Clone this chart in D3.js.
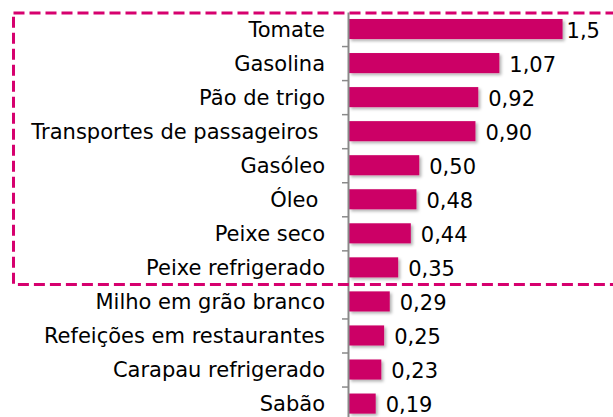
<!DOCTYPE html>
<html>
<head>
<meta charset="utf-8">
<script src="https://cdn.jsdelivr.net/npm/d3@7"></script>
<style>
  html, body { margin: 0; padding: 0; background: #fff; }
  svg { display: block; }
  text { font-family: "DejaVu Sans", sans-serif; white-space: pre; }
</style>
</head>
<body>
<div id="chart"></div>
<script>
// categorias (de cima para baixo)
const categories = [
  'Tomate', 'Gasolina', 'Pão de trigo', 'Transportes de passageiros ',
  'Gasóleo', 'Óleo ', 'Peixe seco', 'Peixe refrigerado',
  'Milho em grão branco', 'Refeições em restaurantes', 'Carapau refrigerado', 'Sabão'
];
// contributos (pontos percentuais)
const values = [1.52, 1.07, 0.92, 0.90, 0.50, 0.48, 0.44, 0.35, 0.29, 0.25, 0.23, 0.19];
// rótulos de dados como aparecem no gráfico
const valueLabels = ['1,5', '1,07', '0,92', '0,90', '0,50', '0,48', '0,44', '0,35', '0,29', '0,25', '0,23', '0,19'];
// quantas categorias ficam dentro da caixa tracejada
const highlighted = 8;

const width = 613, height = 417;
const axisX = 348;
const plotTop = 12, step = 34.05;

const svg = d3.select('#chart').append('svg')
  .attr('width', width)
  .attr('height', height);

// sombra suave das barras
const defs = svg.append('defs');
defs.append('filter')
  .attr('id', 'shadow')
  .attr('x', '-10%').attr('y', '-30%')
  .attr('width', '130%').attr('height', '180%')
  .append('feDropShadow')
  .attr('dx', 2).attr('dy', 2)
  .attr('stdDeviation', 1.5)
  .attr('flood-color', '#000')
  .attr('flood-opacity', 0.3);

// escalas
const x = d3.scaleLinear()
  .domain([0, 1.6])
  .range([axisX + 1, axisX + 1 + 1.6 * 140.5]);

const y = d3.scaleBand()
  .domain(d3.range(categories.length))
  .range([plotTop, plotTop + categories.length * step])
  .paddingInner(0.41)
  .paddingOuter(0.205);

// escala auxiliar para as marcas entre categorias
const yIdx = d3.scaleLinear()
  .domain([0, categories.length])
  .range([plotTop, plotTop + categories.length * step]);

// barras
svg.append('g')
  .selectAll('rect')
  .data(values)
  .enter()
  .append('rect')
  .attr('x', x(0))
  .attr('y', (d, i) => y(i))
  .attr('width', d => x(d) - x(0))
  .attr('height', y.bandwidth())
  .attr('fill', '#cc0066')
  .attr('filter', 'url(#shadow)');

// eixo vertical
const axis = svg.append('g')
  .attr('transform', `translate(${axisX}, 0)`)
  .call(d3.axisLeft(yIdx)
    .tickValues(d3.range(1, categories.length + 1))
    .tickSize(6)
    .tickSizeOuter(0)
    .tickFormat(''));
axis.select('.domain').attr('stroke', '#8a8a8a').attr('stroke-width', 2);
axis.selectAll('.tick line').attr('stroke', '#8a8a8a').attr('stroke-width', 1.5);

// nomes das categorias
svg.append('g')
  .selectAll('text')
  .data(categories)
  .enter()
  .append('text')
  .attr('x', 325)
  .attr('y', (d, i) => y(i) + y.bandwidth() / 2)
  .attr('dy', '0.36em')
  .attr('text-anchor', 'end')
  .style('font-size', '21px')
  .attr('fill', '#000')
  .text(d => d);

// rótulos de valores
svg.append('g')
  .selectAll('text')
  .data(values)
  .enter()
  .append('text')
  .attr('x', (d, i) => x(d) + (i === 0 ? 4 : 10))
  .attr('y', (d, i) => y(i) + y.bandwidth() / 2 + 1)
  .attr('dy', '0.36em')
  .style('font-size', '21px')
  .attr('fill', '#000')
  .text((d, i) => valueLabels[i]);

// caixa tracejada em volta das primeiras categorias
const boxTop = yIdx(0) + 1;
const boxBottom = yIdx(highlighted);
svg.append('rect')
  .attr('x', 13.5)
  .attr('y', boxTop)
  .attr('width', 640)
  .attr('height', boxBottom - boxTop)
  .attr('fill', 'none')
  .attr('stroke', '#d6006e')
  .attr('stroke-width', 3)
  .attr('stroke-dasharray', '11 5');
</script>
</body>
</html>
